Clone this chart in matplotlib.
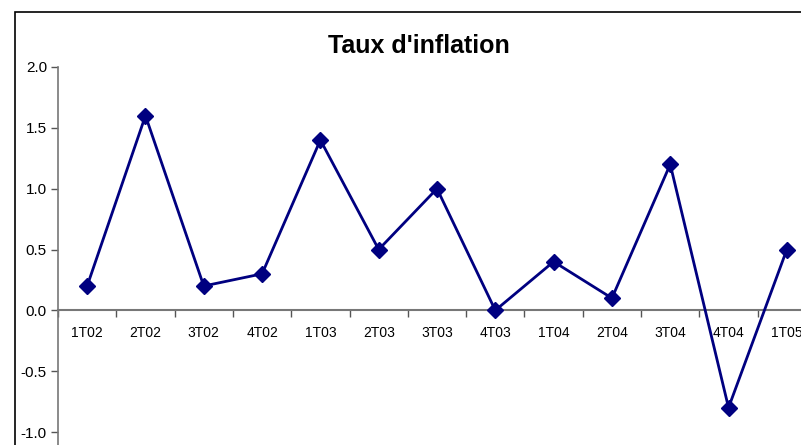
import matplotlib
matplotlib.use("Agg")
import matplotlib.pyplot as plt
from matplotlib.patches import Rectangle

categories = ["1T02", "2T02", "3T02", "4T02", "1T03", "2T03", "3T03", "4T03",
              "1T04", "2T04", "3T04", "4T04", "1T05"]
values = [0.2, 1.6, 0.2, 0.3, 1.4, 0.5, 1.0, 0.0, 0.4, 0.1, 1.2, -0.8, 0.5]
yticks = [-1.0, -0.5, 0.0, 0.5, 1.0, 1.5, 2.0]
title = "Taux d'inflation"

W, H = 801, 445
fig = plt.figure(figsize=(W / 100, H / 100), dpi=100)
plt.rcParams['font.family'] = ['Liberation Sans', 'DejaVu Sans']

# outer chart border (clipped by figure on right/bottom)
fig.patches.append(Rectangle((15 / W, -0.1), 1.2, 1 - 12 / H + 0.1,
                             transform=fig.transFigure, fill=False,
                             edgecolor='black', linewidth=1.2))

left, right = 58, 816
top, bottom = 67, 445
ax = fig.add_axes([left / W, 1 - bottom / H, (right - left) / W, (bottom - top) / H])
ax.patch.set_alpha(0)

x = list(range(len(categories)))
ax.plot(x, values, color='#000080', linewidth=2, marker='D', markersize=8,
        markeredgecolor='#000080', markerfacecolor='#000080', clip_on=False, zorder=3)

unit = (432 - 67) / 3.0
ax.set_ylim(-1.0 - (bottom - 432) / unit, 2.0)
ax.set_xlim(-0.5, len(categories) - 0.5)
ax.set_yticks(yticks)
ax.set_yticklabels([f"{v:.1f}" for v in yticks], fontsize=11, color='black')

ax.set_xticks([i - 0.5 for i in range(len(categories) + 1)])
ax.set_xticklabels([])
ax.set_xticks(x, minor=True)
ax.set_xticklabels(categories, minor=True, fontsize=8.5, color='#333333',
                   family=['Liberation Sans Narrow', 'Arial Narrow', 'Roboto Condensed',
                           'Archivo Narrow', 'Liberation Sans'])
ax.tick_params(axis='x', which='minor', length=0, pad=11)
ax.tick_params(axis='x', which='major', length=5, direction='out', color='#555555', width=1)
ax.tick_params(axis='y', length=5, direction='out', color='#555555', width=1, pad=3)

ax.spines['top'].set_visible(False)
ax.spines['right'].set_visible(False)
ax.spines['bottom'].set_position(('data', 0))
ax.spines['bottom'].set_color('#777777')
ax.spines['left'].set_color('#777777')
ax.spines['bottom'].set_linewidth(1.5)
ax.spines['left'].set_linewidth(1.2)

fig.text(419 / W, 1 - 53 / H, title, ha='center', va='baseline', fontsize=18,
         fontweight='bold')

fig.savefig("out.png", dpi=100)
